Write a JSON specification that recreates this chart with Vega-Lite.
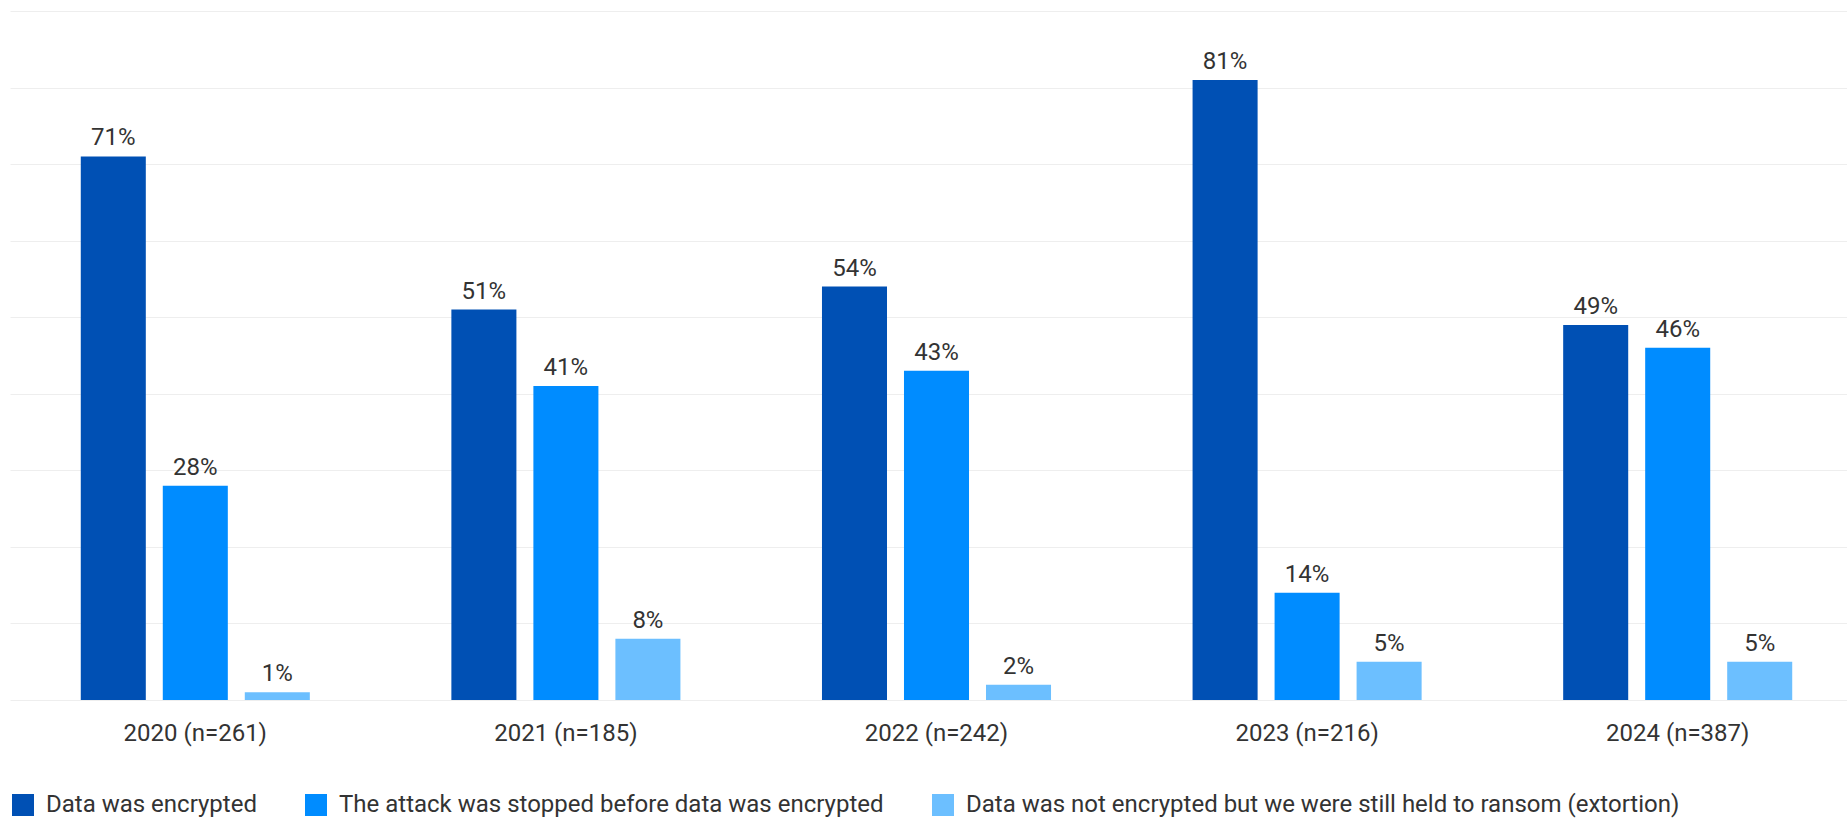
{
  "$schema": "https://vega.github.io/schema/vega-lite/v6.json",
  "width": 1837,
  "height": 689,
  "autosize": {"type": "none"},
  "padding": {"left": 10, "top": 11, "right": 0, "bottom": 120},
  "background": "white",
  "config": {
    "view": {"stroke": null},
    "font": "Roboto"
  },
  "data": {
    "values": [
      {"year": "2020 (n=261)", "status": "Data was encrypted", "value": 71},
      {"year": "2020 (n=261)", "status": "The attack was stopped before data was encrypted", "value": 28},
      {"year": "2020 (n=261)", "status": "Data was not encrypted but we were still held to ransom (extortion)", "value": 1},
      {"year": "2021 (n=185)", "status": "Data was encrypted", "value": 51},
      {"year": "2021 (n=185)", "status": "The attack was stopped before data was encrypted", "value": 41},
      {"year": "2021 (n=185)", "status": "Data was not encrypted but we were still held to ransom (extortion)", "value": 8},
      {"year": "2022 (n=242)", "status": "Data was encrypted", "value": 54},
      {"year": "2022 (n=242)", "status": "The attack was stopped before data was encrypted", "value": 43},
      {"year": "2022 (n=242)", "status": "Data was not encrypted but we were still held to ransom (extortion)", "value": 2},
      {"year": "2023 (n=216)", "status": "Data was encrypted", "value": 81},
      {"year": "2023 (n=216)", "status": "The attack was stopped before data was encrypted", "value": 14},
      {"year": "2023 (n=216)", "status": "Data was not encrypted but we were still held to ransom (extortion)", "value": 5},
      {"year": "2024 (n=387)", "status": "Data was encrypted", "value": 49},
      {"year": "2024 (n=387)", "status": "The attack was stopped before data was encrypted", "value": 46},
      {"year": "2024 (n=387)", "status": "Data was not encrypted but we were still held to ransom (extortion)", "value": 5}
    ]
  },
  "encoding": {
    "x": {
      "field": "year",
      "type": "nominal",
      "sort": null,
      "scale": {"range": [0, 1853], "paddingInner": 0, "paddingOuter": 0},
      "axis": {
        "title": null,
        "labelAngle": 0,
        "labelFont": "Roboto",
        "labelFontSize": 24,
        "labelColor": "#333333",
        "labelPadding": 21,
        "ticks": false,
        "tickSize": 0,
        "domain": false,
        "grid": false
      }
    },
    "xOffset": {
      "field": "status",
      "type": "nominal",
      "sort": null,
      "scale": {"paddingInner": 0.207, "paddingOuter": 0.863}
    },
    "y": {
      "field": "value",
      "type": "quantitative",
      "scale": {"domain": [0, 90], "nice": false},
      "axis": {
        "title": null,
        "values": [0, 10, 20, 30, 40, 50, 60, 70, 80, 90],
        "labels": false,
        "ticks": false,
        "domain": false,
        "grid": true,
        "gridColor": "#eeeeee",
        "gridWidth": 1
      }
    }
  },
  "layer": [
    {
      "mark": {"type": "bar"},
      "encoding": {
        "color": {
          "field": "status",
          "type": "nominal",
          "scale": {
            "domain": [
              "Data was encrypted",
              "The attack was stopped before data was encrypted",
              "Data was not encrypted but we were still held to ransom (extortion)"
            ],
            "range": ["#0050B4", "#008CFF", "#6CBFFF"]
          },
          "legend": {
            "title": null,
            "orient": "none",
            "direction": "horizontal",
            "legendX": 1,
            "legendY": 782,
            "symbolType": "square",
            "symbolSize": 484,
            "symbolStrokeWidth": 0,
            "symbolOpacity": 1,
            "labelFont": "Roboto",
            "labelFontSize": 24,
            "labelColor": "#333333",
            "labelLimit": 1000,
            "labelOffset": 11,
            "columnPadding": 47,
            "padding": 0
          }
        }
      }
    },
    {
      "mark": {
        "type": "text",
        "baseline": "alphabetic",
        "align": "center",
        "dy": -11,
        "fontSize": 24,
        "font": "Roboto",
        "color": "#333333",
        "text": {"expr": "datum.value + '%'"}
      },
      "encoding": {
        "detail": {"field": "status"}
      }
    }
  ]
}
